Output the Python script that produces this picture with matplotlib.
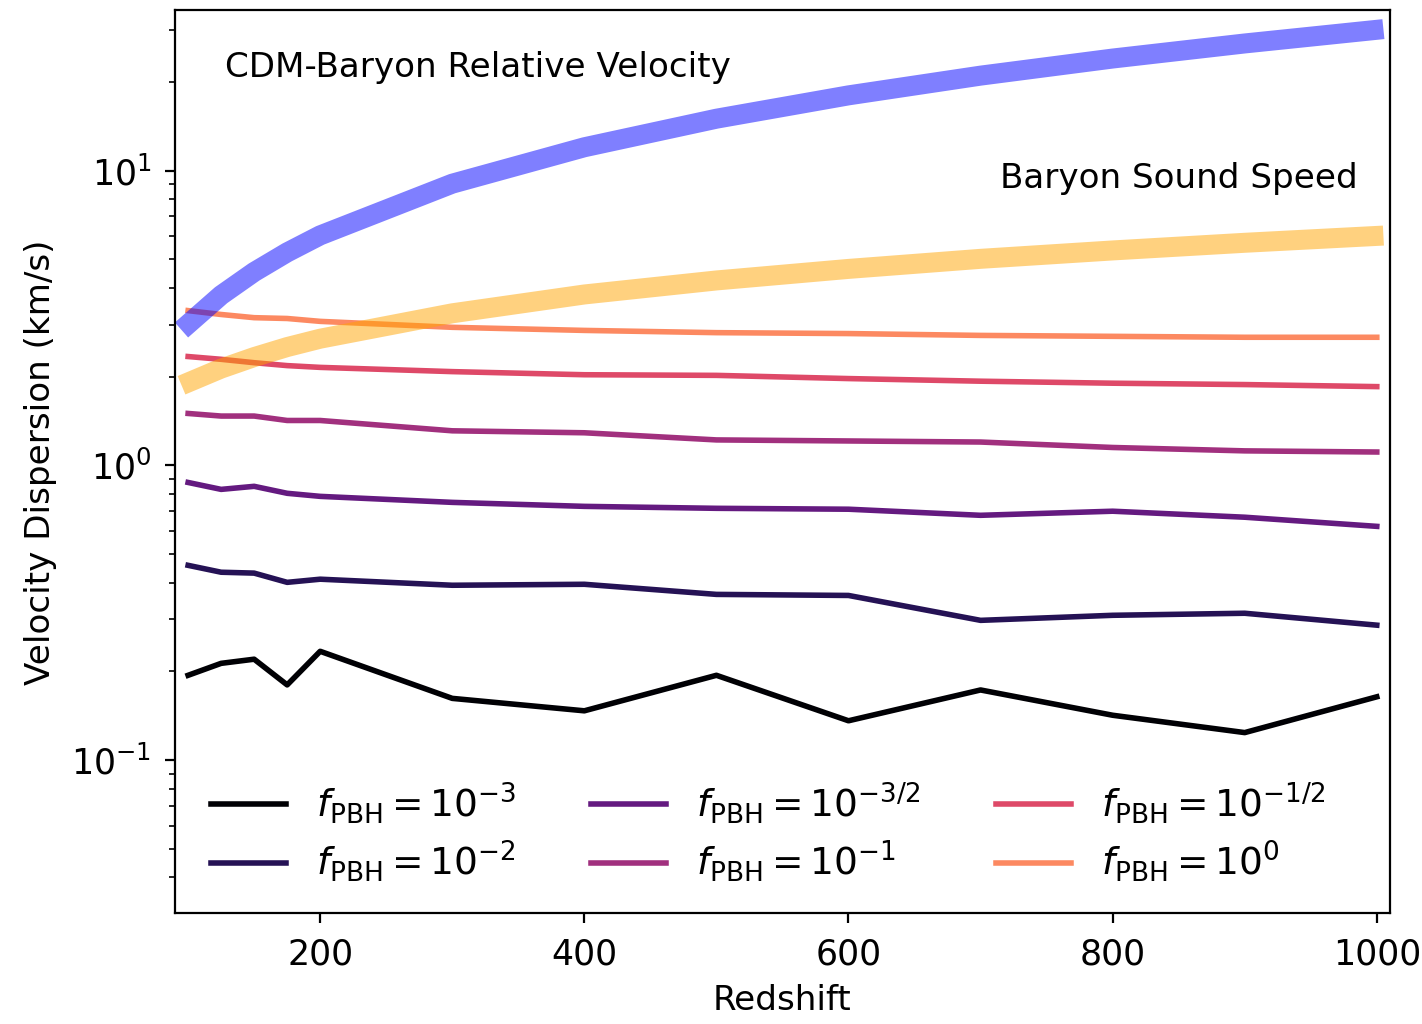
import numpy as np
import matplotlib.pyplot as plt

# redshift samples for the PBH runs
redshift = [100, 125, 150, 175, 200, 300, 400, 500, 600, 700, 800, 900, 1000]

# velocity dispersion (km/s) for each f_PBH
sigma_m3 = [0.194, 0.213, 0.220, 0.180, 0.234, 0.162, 0.147, 0.194, 0.136, 0.173, 0.142, 0.124, 0.164]
sigma_m2 = [0.458, 0.434, 0.431, 0.401, 0.411, 0.392, 0.395, 0.365, 0.362, 0.298, 0.310, 0.315, 0.287]
sigma_m15 = [0.875, 0.829, 0.849, 0.804, 0.785, 0.749, 0.726, 0.715, 0.710, 0.677, 0.699, 0.667, 0.621]
sigma_m1 = [1.50, 1.47, 1.47, 1.42, 1.42, 1.31, 1.29, 1.22, 1.21, 1.20, 1.15, 1.12, 1.11]
sigma_m05 = [2.34, 2.29, 2.23, 2.18, 2.15, 2.08, 2.03, 2.02, 1.97, 1.93, 1.90, 1.88, 1.85]
sigma_0 = [3.35, 3.25, 3.17, 3.15, 3.08, 2.94, 2.87, 2.82, 2.80, 2.76, 2.74, 2.72, 2.72]

labels = [r'$f_{\rm PBH} = 10^{-3}$', r'$f_{\rm PBH} = 10^{-2}$',
          r'$f_{\rm PBH} = 10^{-3/2}$', r'$f_{\rm PBH} = 10^{-1}$',
          r'$f_{\rm PBH} = 10^{-1/2}$', r'$f_{\rm PBH} = 10^{0}$']

# background curves
z_bg = [95, 125, 150, 175, 200, 300, 400, 500, 600, 700, 800, 900, 1005]
v_rel = [2.88, 3.78, 4.53, 5.28, 6.03, 9.03, 12.0, 15.0, 18.0, 21.0, 24.0, 27.0, 30.2]
c_s = [1.87, 2.13, 2.33, 2.52, 2.69, 3.28, 3.80, 4.24, 4.64, 5.02, 5.36, 5.69, 6.02]

fig = plt.figure(figsize=(7.11, 5.12), dpi=200)
ax = fig.add_axes([0.123, 0.108, 0.8545, 0.882])

colors = plt.cm.magma(np.linspace(0, 0.75, 6))
series = [sigma_m3, sigma_m2, sigma_m15, sigma_m1, sigma_m05, sigma_0]
for s, c, lab in zip(series, colors, labels):
    ax.plot(redshift, s, color=c, lw=2, label=lab)

# thick translucent bands drawn over the PBH curves
ax.plot(z_bg, v_rel, color='blue', alpha=0.5, lw=7.2, solid_capstyle='butt')
ax.plot(z_bg, c_s, color='orange', alpha=0.5, lw=7.2, solid_capstyle='butt')

ax.text(128, 22.3, 'CDM-Baryon Relative Velocity', fontsize=12.3, va='center')
ax.text(715, 9.4, 'Baryon Sound Speed', fontsize=12.3, va='center')

ax.set_yscale('log')
ax.set_xlim(90, 1010)
ax.set_ylim(0.0302, 35)
ax.set_xlabel('Redshift', fontsize=12.3, labelpad=4.5)
ax.set_ylabel('Velocity Dispersion (km/s)', fontsize=12.3, labelpad=5)
ax.tick_params(labelsize=12.5, pad=5)

ax.legend(loc='lower center', bbox_to_anchor=(0.488, -0.006), ncol=3,
          frameon=False, fontsize=13.5, labelspacing=0.35)

fig.savefig('out.png', dpi=200)
